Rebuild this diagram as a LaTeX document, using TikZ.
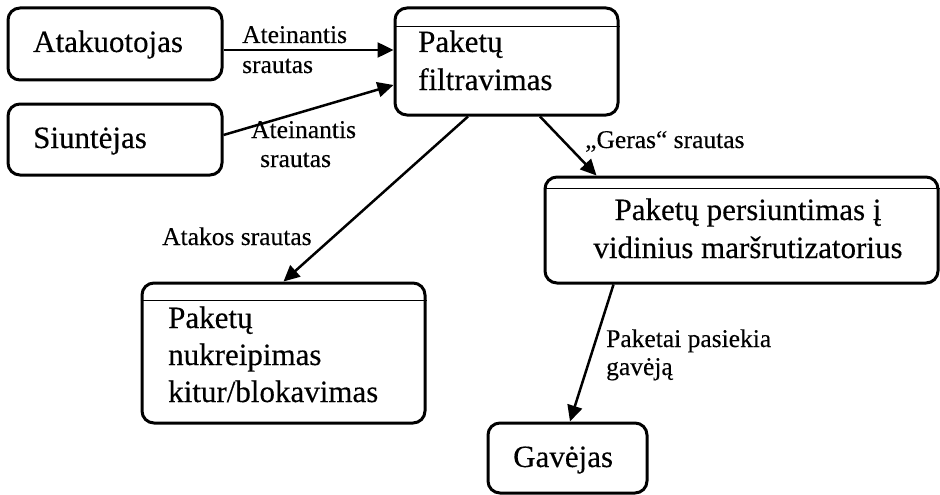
\documentclass[tikz,border=0pt]{standalone}
\usepackage{fontspec}
\setmainfont{Liberation Serif}[RawFeature={embolden=0.3}]
\usetikzlibrary{arrows.meta}

\tikzset{
  box/.style={draw, line width=3pt, rounded corners=12pt, inner sep=0pt},
  divider/.style={line width=1.5pt},
  flow/.style={line width=2.5pt, -{Triangle[length=16pt,width=15pt]}},
  boxtext/.style={inner sep=0pt, anchor=base west, font=\fontsize{31}{38}\selectfont},
  flowtext/.style={inner sep=0pt, anchor=base west, font=\fontsize{25.5}{30}\selectfont},
}

\begin{document}
\begin{tikzpicture}[x=1pt, y=-1pt]
  \useasboundingbox (0,0) rectangle (940,495);

  % boxes
  \node[box, minimum width=214pt, minimum height=72pt]  (att)  at (115,44) {};
  \node[box, minimum width=214pt, minimum height=71pt]  (siu)  at (115,139.5) {};
  \node[box, minimum width=223pt, minimum height=107pt] (filt) at (506.5,61.5) {};
  \node[box, minimum width=393pt, minimum height=106pt] (pers) at (741.5,230) {};
  \node[box, minimum width=283pt, minimum height=140pt] (nukr) at (283.5,353) {};
  \node[box, minimum width=159pt, minimum height=70pt]  (gav)  at (567.5,458) {};

  % header lines of the process boxes
  \draw[divider] ([yshift=-20pt]filt.north west) -- ([yshift=-20pt]filt.north east);
  \draw[divider] ([yshift=-13pt]pers.north west) -- ([yshift=-13pt]pers.north east);
  \draw[divider] ([yshift=-19pt]nukr.north west) -- ([yshift=-19pt]nukr.north east);

  % box texts
  \node[boxtext] (attT) at (33,52)  {Atakuotojas};
  \node[boxtext] (siuT) at (33,148) {Siuntėjas};
  \node[boxtext] (filtT1) at (418,52) {Paketų};
  \node[boxtext] (filtT2) at (418,90) {filtravimas};
  \node[boxtext, anchor=base] (persT1) at (748,220) {Paketų persiuntimas į};
  \node[boxtext, anchor=base] (persT2) at (748,258) {vidinius maršrutizatorius};
  \node[boxtext] (nukrT1) at (168,328) {Paketų};
  \node[boxtext] (nukrT2) at (168,365) {nukreipimas};
  \node[boxtext] (nukrT3) at (168,402) {kitur/blokavimas};
  \node[boxtext] (gavT) at (513,467) {Gavėjas};

  % connectors
  \draw[flow] ([yshift=-6pt]att.east) -- ([yshift=-6pt]att.east -| filt.west);
  \draw[flow] ([yshift=4.5pt]siu.east) -- ([yshift=-23.5pt]filt.west);
  \draw[flow] ([xshift=-38.5pt]filt.south) -- (nukr.north);
  \draw[flow] ([xshift=33.5pt]filt.south) -- ([xshift=53pt]pers.north west);
  \draw[flow] ([xshift=70pt]pers.south west) -- ([xshift=2.5pt]gav.north);

  % connector labels
  \node[flowtext] (l1a) at (242,43)  {Ateinantis};
  \node[flowtext] (l1b) at (242,73)  {srautas};
  \node[flowtext] (l2a) at (251,138) {Ateinantis};
  \node[flowtext] (l2b) at (260,167) {srautas};
  \node[flowtext] (l3)  at (585,148) {„Geras“ srautas};
  \node[flowtext] (l4)  at (162,245) {Atakos srautas};
  \node[flowtext] (l5a) at (606,347) {Paketai pasiekia};
  \node[flowtext] (l5b) at (606,375) {gavėją};
\end{tikzpicture}
\end{document}
